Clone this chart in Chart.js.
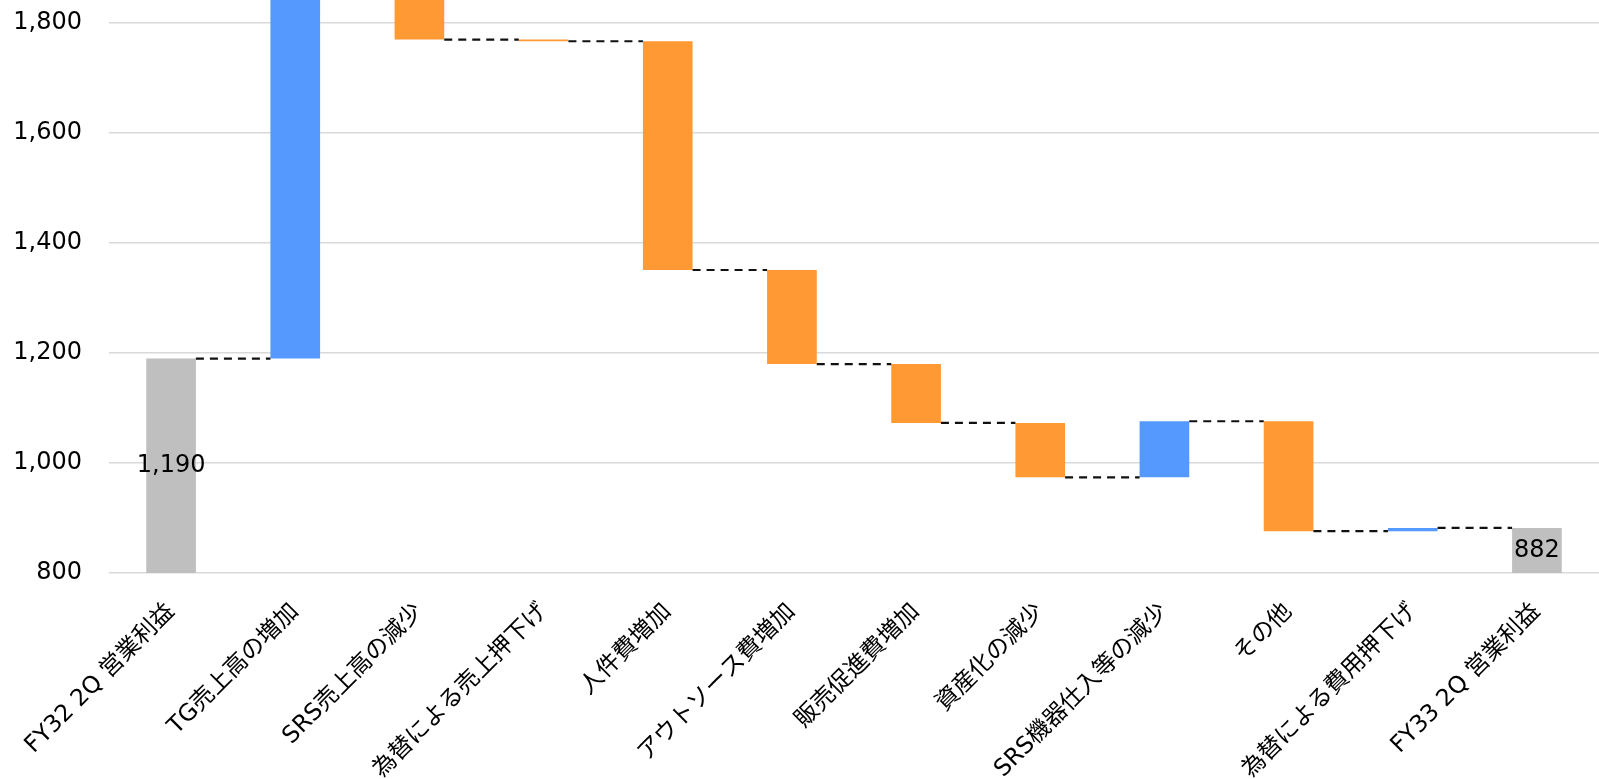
<!DOCTYPE html>
<html>
<head>
<meta charset="utf-8">
<script src="https://cdn.jsdelivr.net/npm/chart.js@4"></script>
<style>
  html, body { margin: 0; padding: 0; background: #fff; }
  #wrap { width: 1599px; height: 779px; }
</style>
</head>
<body>
<div id="wrap"><canvas id="waterfall"></canvas></div>
<script>
const categories = [
    "FY32 2Q 営業利益", "TG売上高の増加", "SRS売上高の減少", "為替による売上押下げ",
    "人件費増加", "アウトソース費増加", "販売促進費増加", "資産化の減少",
    "SRS機器仕入等の減少", "その他", "為替による費用押下げ", "FY33 2Q 営業利益"
];
// start / end of each step
const starts = [800, 1190, 1910, 1770, 1767, 1351, 1180, 1073, 974, 1076, 876, 800];
const ends   = [1190, 1910, 1770, 1767, 1351, 1180, 1073, 974, 1076, 876, 882, 882];
const kinds  = ["total", "up", "down", "down", "down", "down", "down", "down", "up", "down", "up", "total"];
const totalLabels = { 0: "1,190", 11: "882" };
const yTicks = [800, 1000, 1200, 1400, 1600, 1800];

const colors = { total: "#bfbfbf", up: "#5599ff", down: "#ff9933" };
const fontMain = "'DejaVu Sans', 'Noto Sans CJK JP', sans-serif";

const connectors = {
    id: "connectors",
    afterDatasetsDraw(chart) {
        const ctx = chart.ctx;
        const area = chart.chartArea;
        const meta = chart.getDatasetMeta(0);
        const y = chart.scales.y;
        ctx.save();
        ctx.beginPath();
        ctx.rect(area.left, area.top, area.right - area.left, area.bottom - area.top);
        ctx.clip();
        ctx.strokeStyle = "#111";
        ctx.lineWidth = 2.2;
        ctx.setLineDash([8, 6]);
        for (let i = 0; i < meta.data.length - 1; i++) {
            const a = meta.data[i], b = meta.data[i + 1];
            const py = y.getPixelForValue(ends[i]);
            ctx.beginPath();
            ctx.moveTo(a.x + a.width / 2, py);
            ctx.lineTo(b.x - b.width / 2, py);
            ctx.stroke();
        }
        ctx.restore();
    }
};

const totals = {
    id: "totals",
    afterDatasetsDraw(chart) {
        const ctx = chart.ctx;
        const meta = chart.getDatasetMeta(0);
        ctx.save();
        ctx.fillStyle = "#000";
        ctx.font = "24px " + fontMain;
        ctx.textAlign = "center";
        ctx.textBaseline = "middle";
        Object.keys(totalLabels).forEach(function (k) {
            const bar = meta.data[k];
            ctx.fillText(totalLabels[k], bar.x, (bar.y + bar.base) / 2);
        });
        ctx.restore();
    }
};

new Chart(document.getElementById("waterfall"), {
    type: "bar",
    data: {
        labels: categories,
        datasets: [{
            data: starts.map((s, i) => [s, ends[i]]),
            backgroundColor: kinds.map(k => colors[k]),
            borderSkipped: false,
            barPercentage: 0.4,
            categoryPercentage: 1
        }]
    },
    options: {
        responsive: true,
        maintainAspectRatio: false,
        animation: false,
        layout: { padding: 0 },
        plugins: {
            legend: { display: false },
            tooltip: { enabled: false }
        },
        scales: {
            x: {
                grid: { display: false },
                border: { display: false },
                afterFit(scale) {
                    scale.height = 206;
                    scale.paddingLeft = 0;
                    scale.paddingRight = 0;
                },
                ticks: {
                    color: "#000",
                    font: { size: 23.5, family: fontMain },
                    minRotation: 45,
                    maxRotation: 45,
                    autoSkip: false,
                    padding: 17
                }
            },
            y: {
                min: 800,
                max: 1842,
                afterBuildTicks(scale) {
                    scale.ticks = yTicks.map(v => ({ value: v }));
                },
                afterFit(scale) {
                    scale.width = 109;
                    scale.paddingTop = 0;
                    scale.paddingBottom = 0;
                },
                grid: { color: "#d9d9d9", lineWidth: 1.5, drawTicks: false },
                border: { display: false },
                ticks: {
                    color: "#000",
                    font: { size: 24, family: fontMain },
                    padding: 27,
                    callback: v => v.toLocaleString("en-US")
                }
            }
        }
    },
    plugins: [connectors, totals]
});
</script>
</body>
</html>
